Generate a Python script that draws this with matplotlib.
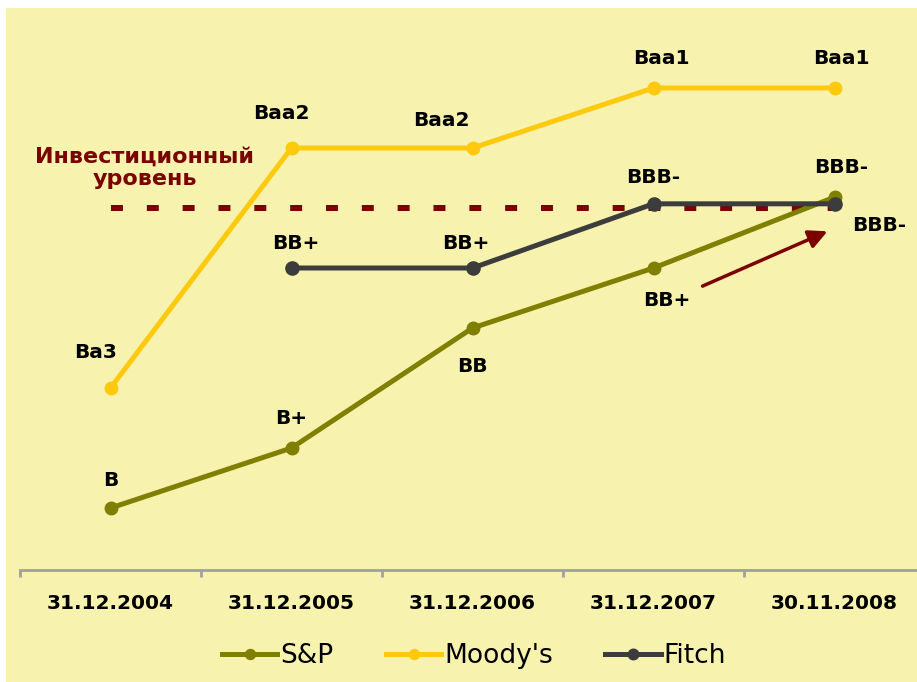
import numpy as np
import matplotlib.pyplot as plt
from matplotlib.patches import Rectangle

# даты и рейтинги (шкала: B=1, B+=2, BB-=3, BB=4, BB+=5, BBB-=6, BBB=7, BBB+=8)
dates = ['31.12.2004', '31.12.2005', '31.12.2006', '31.12.2007', '30.11.2008']
sp = [1, 2, 4, 5, 6.18]
sp_lbl = ['B', 'B+', 'BB', 'BB+', 'BBB-']
moodys = [3, 7, 7, 8, 8]
moodys_lbl = ['Ba3', 'Baa2', 'Baa2', 'Baa1', 'Baa1']
fitch = [np.nan, 5, 5, 6.07, 6.07]
fitch_lbl = ['', 'BB+', 'BB+', 'BBB-', 'BBB-']
invest_level = 6

bg = '#F7F2AE'
c_sp = '#7F7F00'
c_moodys = '#FFC90E'
c_fitch = '#3C3C3C'
c_red = '#7B0000'

W, H = 917, 682
fig = plt.figure(figsize=(W / 100, H / 100), dpi=100, facecolor='white')
fig.patches.append(Rectangle((6 / W, 0), 1, 1 - 8 / H, transform=fig.transFigure,
                             facecolor=bg, edgecolor='none', zorder=-10))
ax = fig.add_axes([20 / W, 112 / H, 905 / W, 563 / H])
ax.set_facecolor('none')

x = np.arange(len(dates))
ax.plot(x, sp, color=c_sp, lw=3.6, marker='o', ms=9, label='S&P', zorder=3)
ax.plot(x, moodys, color=c_moodys, lw=3.6, marker='o', ms=9, label="Moody's", zorder=3)
ax.plot(x, fitch, color=c_fitch, lw=3.6, marker='o', ms=9.5, label='Fitch', zorder=4)

# инвестиционный уровень
ax.plot([0, 4], [invest_level, invest_level], color=c_red, lw=4.3,
        dashes=(2, 4), solid_capstyle='butt', dash_capstyle='butt', zorder=2)
ax.text(0.19, 6.67, 'Инвестиционный\nуровень', color=c_red, fontsize=16,
        fontweight='bold', ha='center', va='center', linespacing=1.2)
ax.annotate('', xy=(3.975, 5.63), xytext=(3.257, 4.68),
            arrowprops=dict(arrowstyle='-|>', color=c_red, lw=2.5, mutation_scale=28))

# подписи точек (смещения в пикселях)
sp_off = [(0, 28), (0, 30), (0, -38), (13, -32), (45, -28)]
moodys_off = [(-15, 36), (-10, 35), (-31, 28), (8, 30), (7, 30)]
fitch_off = [(0, 0), (4, 25), (-7, 25), (0, 26), (7, 36)]
for vals, lbls, offs in [(sp, sp_lbl, sp_off), (moodys, moodys_lbl, moodys_off),
                         (fitch, fitch_lbl, fitch_off)]:
    for xi, v, t, o in zip(x, vals, lbls, offs):
        if t:
            ax.annotate(t, (xi, v), xytext=o, textcoords='offset pixels',
                        ha='center', va='center', fontsize=14.5, fontweight='bold')

ax.set_xlim(-0.5, 4.5)
ax.set_ylim(-0.033, 9.35)
ax.set_yticks([])
for s in ['top', 'right', 'left']:
    ax.spines[s].set_visible(False)
ax.spines['bottom'].set_color('#A0A0A0')
ax.spines['bottom'].set_linewidth(2)
ax.set_xticks(x)
ax.set_xticklabels(dates, fontsize=14.5, fontweight='bold')
ax.set_xticks(np.arange(-0.5, 5, 1), minor=True)
ax.tick_params(axis='x', which='major', length=0, pad=17)
ax.tick_params(axis='x', which='minor', length=5, width=2, color='#A0A0A0')

fig.legend(loc='center', bbox_to_anchor=(474 / W, 1 - 656 / H), ncol=3, frameon=False,
           fontsize=19, handlelength=2.1, handletextpad=0.1, columnspacing=2.0,
           markerscale=0.8)

plt.savefig('out.png', dpi=100, facecolor='white')
